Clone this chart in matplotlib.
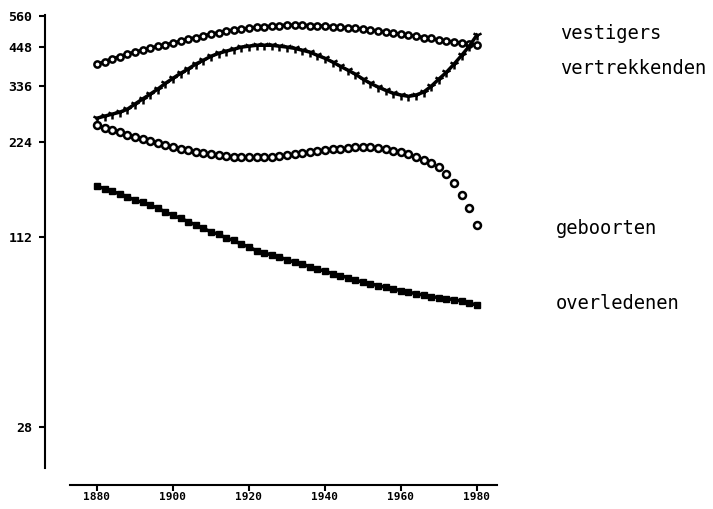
import matplotlib
matplotlib.use("Agg")
import matplotlib.pyplot as plt
from matplotlib.ticker import NullLocator

# years, every 2 years 1880-1980
years = list(range(1880, 1981, 2))

vestigers = [394, 402, 410, 417, 425, 431, 437, 443, 450, 455,
             460, 467, 474, 479, 486, 491, 497, 503, 506, 510,
             513, 517, 519, 521, 523, 525, 525, 525, 523, 523,
             521, 519, 517, 515, 513, 510, 506, 503, 499, 495,
             491, 488, 484, 479, 476, 470, 467, 464, 460, 457,
             453]

vertrekkenden = [266, 270, 274, 278, 284, 295, 306, 317, 329, 343,
                 356, 369, 381, 395, 406, 418, 427, 434, 440, 447,
                 450, 453, 453, 453, 450, 447, 443, 437, 431, 421,
                 412, 401, 389, 378, 367, 354, 343, 334, 326, 319,
                 315, 312, 315, 322, 336, 354, 372, 395, 421, 450,
                 488]

geboorten = [253, 248, 244, 240, 236, 232, 228, 225, 222, 219,
             215, 213, 211, 208, 206, 205, 203, 202, 201, 200,
             200, 200, 200, 201, 202, 203, 205, 206, 208, 209,
             211, 212, 213, 214, 215, 215, 215, 214, 212, 210,
             208, 205, 200, 196, 192, 186, 177, 166, 152, 138,
             122]

overledenen = [162, 159, 156, 153, 150, 146, 144, 141, 138, 134,
               131, 128, 125, 122, 119, 116, 114, 111, 109, 106,
               104, 101, 99.7, 97.9, 96.5, 94.7, 93.0, 91.7, 90.0, 88.4,
               87.1, 85.5, 84.3, 83.1, 81.6, 80.4, 79.5, 78.3, 77.5, 76.4,
               75.6, 74.7, 73.9, 73.1, 72.3, 71.8, 71.3, 70.7, 70.0, 69.0,
               68.0]

yticks = [28, 112, 224, 336, 448, 560]
xticks = [1880, 1900, 1920, 1940, 1960, 1980]
labels = ["vestigers", "vertrekkenden", "geboorten", "overledenen"]

W, H = 713, 509
fig = plt.figure(figsize=(W / 100, H / 100), dpi=100)
ax = fig.add_axes([70 / W, 1 - 468 / H, 427 / W, (468 - 15) / H])

# plotter-style marker rows
ax.plot(years, vestigers, color="black", lw=2.5, marker="o", ms=4.5,
        mfc="white", mec="black", mew=1.8)
ax.plot(years, vertrekkenden, color="black", lw=2.5, marker="1", ms=7,
        mew=1.8)
ax.plot(years, geboorten, linestyle="none", marker="o", ms=5,
        mfc="white", mec="black", mew=1.8)
ax.plot(years, overledenen, color="black", lw=2.5, marker="s", ms=4.5)

ax.set_yscale("log")
ax.set_ylim(20.7, 565)
ax.set_xlim(1872.9, 1985.3)
ax.yaxis.set_minor_locator(NullLocator())
ax.set_yticks(yticks)
ax.set_yticklabels([str(t) for t in yticks])
ax.set_xticks(xticks)
ax.set_xticklabels([str(t) for t in xticks])

for s in ["top", "right"]:
    ax.spines[s].set_visible(False)
ax.spines["left"].set_position(("outward", 18))
ax.spines["bottom"].set_position(("outward", 12))
for s in ["left", "bottom"]:
    ax.spines[s].set_linewidth(1.5)

ax.tick_params(axis="y", direction="out", length=4, width=1.5, pad=5)
ax.tick_params(axis="x", direction="out", length=4, width=1.5, pad=1.5)
for t in ax.get_yticklabels():
    t.set_fontfamily("DejaVu Sans Mono")
    t.set_fontweight("bold")
    t.set_fontsize(9.5)
for t in ax.get_xticklabels():
    t.set_fontfamily("DejaVu Sans Mono")
    t.set_fontweight("bold")
    t.set_fontsize(8)

# series names to the right of the plot
label_y = [39, 74, 234, 309]
label_x = [560, 560, 556, 556]
for name, lx, ly in zip(labels, label_x, label_y):
    fig.text(lx / W, 1 - ly / H, name, family="DejaVu Sans Mono",
             fontsize=13.5, va="baseline", ha="left")

fig.savefig("out.png", dpi=100)
